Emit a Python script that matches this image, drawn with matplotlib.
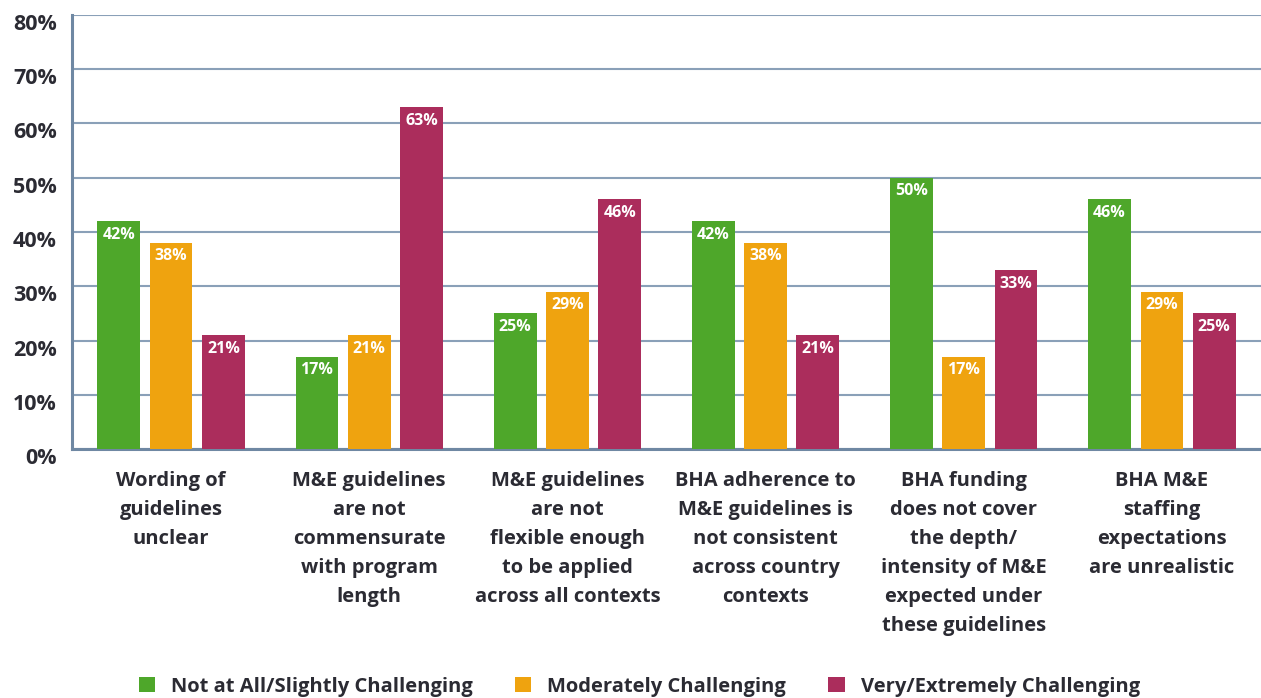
import matplotlib.pyplot as plt
import matplotlib.transforms as mtransforms
import numpy as np

plt.rcParams['font.family'] = ['Open Sans', 'DejaVu Sans']

# Survey responses: share of respondents per challenge level
categories = [
    'Wording of\nguidelines\nunclear',
    'M&E guidelines\nare not\ncommensurate\nwith program\nlength',
    'M&E guidelines\nare not\nflexible enough\nto be applied\nacross all contexts',
    'BHA adherence to\nM&E guidelines is\nnot consistent\nacross country\ncontexts',
    'BHA funding\ndoes not cover\nthe depth/\nintensity of M&E\nexpected under\nthese guidelines',
    'BHA M&E\nstaffing\nexpectations\nare unrealistic',
]
not_at_all = [42, 17, 25, 42, 50, 46]
moderately = [38, 21, 29, 38, 17, 29]
very = [21, 63, 46, 21, 33, 25]

series_names = ['Not at All/Slightly Challenging', 'Moderately Challenging',
                'Very/Extremely Challenging']
colors = ['#4EA72A', '#EFA30F', '#AB2D5C']
text_color = '#2B2B33'
grid_color = '#8AA0B8'

fig = plt.figure(figsize=(12.61, 6.98), dpi=100)
ax = fig.add_axes([72 / 1261, 1 - 449 / 698, 1 - 72 / 1261, (449 - 15) / 698])

x = np.arange(len(categories))
width = 0.216
step = 0.264

for i, (vals, name, c) in enumerate(zip([not_at_all, moderately, very], series_names, colors)):
    bars = ax.bar(x + (i - 1) * step, vals, width, color=c, label=name, zorder=3)
    for b, v in zip(bars, vals):
        ax.annotate(f'{v}%', (b.get_x() + b.get_width() / 2, v),
                    xytext=(0, -4), textcoords='offset points',
                    ha='center', va='top', color='white',
                    fontsize=11.5, fontweight='bold', zorder=4)

ax.set_xlim(-0.5, len(categories) - 0.5)
ax.set_ylim(0, 80)
ax.set_yticks(np.arange(0, 81, 10))
ax.set_yticklabels([f'{t}%' for t in range(0, 81, 10)])
ax.yaxis.grid(True, color=grid_color, linewidth=1.5, zorder=0)
ax.set_axisbelow(True)

for s in ['top', 'right']:
    ax.spines[s].set_visible(False)
for s in ['left', 'bottom']:
    ax.spines[s].set_color('#6F88A3')
    ax.spines[s].set_linewidth(2.2)

ax.tick_params(axis='both', length=0, colors=text_color)
ax.tick_params(axis='y', labelsize=15.5, pad=11)
# y labels sit a little below their gridlines
shift = mtransforms.ScaledTranslation(0, -7 / 100, fig.dpi_scale_trans)
for lbl in ax.get_yticklabels():
    lbl.set_fontweight('bold')
    lbl.set_transform(lbl.get_transform() + shift)

ax.set_xticks(x)
ax.set_xticklabels(categories, fontsize=14.5, fontweight='bold',
                   color=text_color, linespacing=1.6, va='top')
ax.tick_params(axis='x', pad=15.5)

leg = fig.legend(loc='lower center', bbox_to_anchor=(0.507, -0.024), ncol=3,
                 frameon=False, fontsize=14.5, handlelength=0.8, handleheight=0.8,
                 columnspacing=2.1, handletextpad=0.8)
for t in leg.get_texts():
    t.set_fontweight('bold')
    t.set_color(text_color)

fig.savefig('out.png', dpi=100)
